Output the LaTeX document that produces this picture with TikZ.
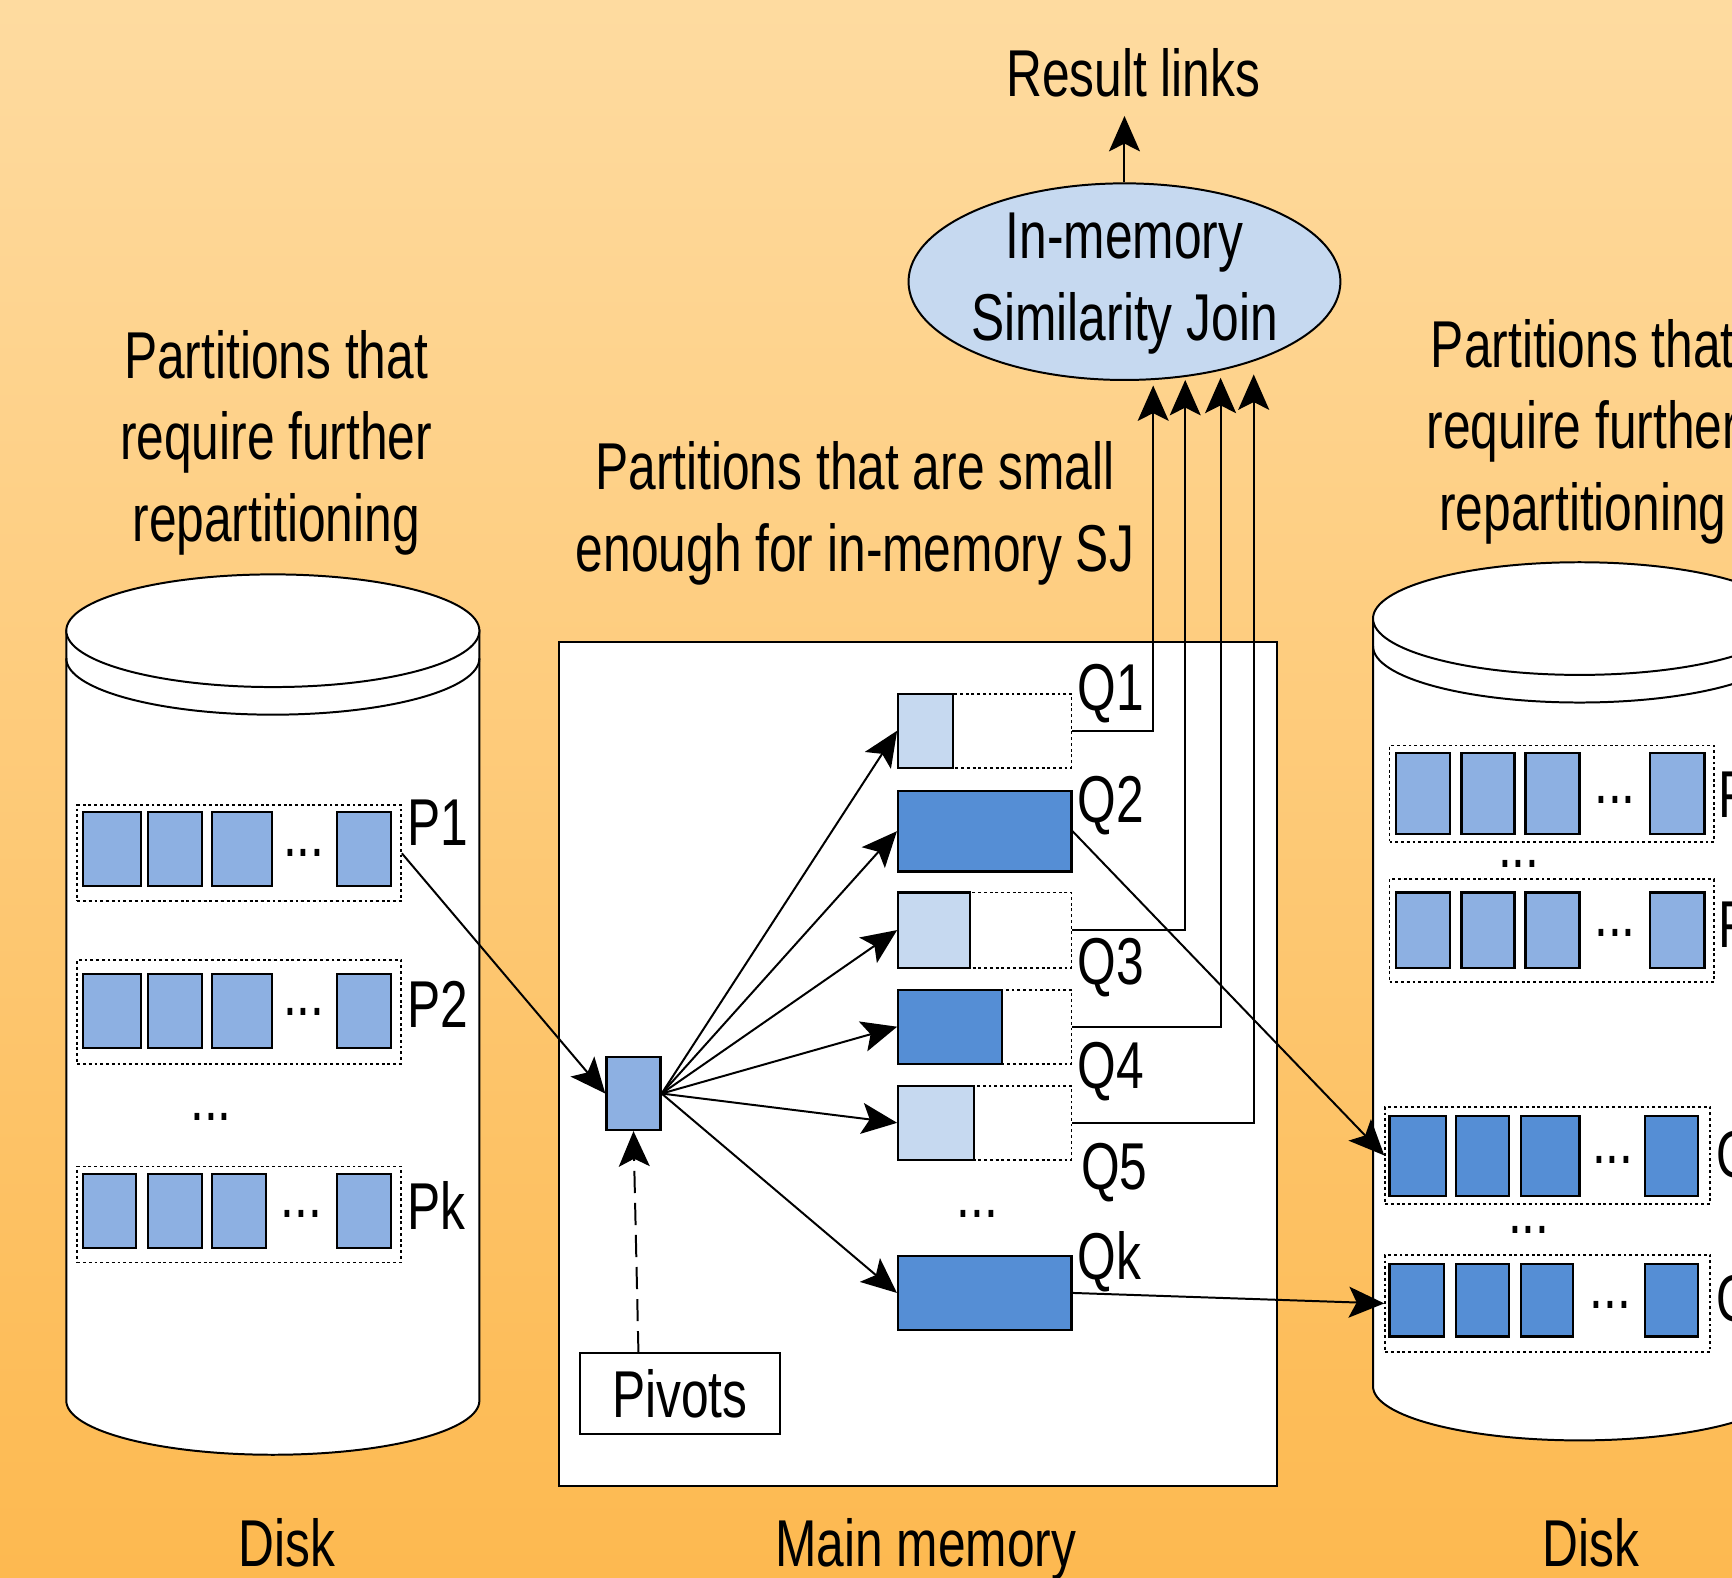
\documentclass[tikz,border=0pt]{standalone}
\usepackage{fontspec}
\setmainfont{Liberation Sans}[FakeStretch=0.75]
\usetikzlibrary{fit,arrows.meta,shapes.geometric}

\definecolor{bgtop}{RGB}{254,219,160}
\definecolor{bgbot}{RGB}{253,185,80}
\definecolor{pale}{RGB}{198,217,240}
\definecolor{mid}{RGB}{141,176,226}
\definecolor{deep}{RGB}{85,142,213}

% disk drum: centre x, top-ellipse centre y, bottom-ellipse centre y
\newcommand{\drum}[3]{%
  \filldraw[fill=white] (#1-187,#2) -- (#1-187,#3)
    arc[start angle=180,end angle=0,x radius=187,y radius=49] -- (#1+187,#2) -- cycle;
  \filldraw[fill=white] (#1,#2) ellipse[x radius=187,y radius=51];
  \draw (#1-187,#2+25) arc[start angle=180,end angle=0,x radius=187,y radius=51];
}

% a partition: dotted frame plus its blocks
% #1 name, #2-#5 frame corners, #6/#7 block top/bottom, #8 fill, #9 block x-extents
\newcommand{\partrow}[9]{%
  \node[dotbox, fit={(#2,#3) (#4,#5)}] (#1) {};
  \foreach \xa/\xb [count=\i] in {#9}
    \node[blk, fill=#8, fit={(\xa,#6) (\xb,#7)}] (#1-\i) {};
}

\begin{document}
\begin{tikzpicture}[x=0.5pt,y=-0.5pt,
  every node/.style={font=\fontsize{30}{37}\selectfont, inner sep=0pt},
  line width=0.9pt,
  tip/.style={-{Stealth[length=16pt,width=14pt,inset=3.5pt]}},
  dotbox/.style={draw, dash pattern=on 1.3pt off 1.3pt, line width=0.8pt, inner sep=0pt},
  blk/.style={draw, inner sep=0pt, line width=1pt},
]
\useasboundingbox (0,0) rectangle (1568,1428);
\clip (0,0) rectangle (1568,1428);
\shade[top color=bgtop,bottom color=bgbot] (0,0) rectangle (1568,1428);

% ---- titles ----
\node[anchor=base] (res) at (1026,87) {Result links};
\node[anchor=north, align=center] (ltitle) at (250,298) {Partitions that\\require further\\repartitioning};
\node[anchor=north, align=center] (mtitle) at (774,399) {Partitions that are small\\enough for in-memory SJ};
\node[anchor=north, align=center] (rtitle) at (1433,288) {Partitions that\\require further\\repartitioning};

% ---- in-memory join ----
\node[ellipse, draw, fill=pale, minimum width=195.5pt, minimum height=89pt] (sj) at (1018,255) {};
\node[align=center] (sjtext) at (1018,257) {In-memory\\Similarity Join};
\coordinate (rtip) at (1018,105);
\draw[tip] (sj.north) -- (rtip);

% ---- disks ----
\drum{247}{571}{1268}
\drum{1430}{560}{1255}

% left disk partitions
\partrow{p1}{70}{729}{363}{816}{735}{802}{mid}{75/128,134/183,192/246,305/354}
\partrow{p2}{70}{869}{363}{963}{882}{949}{mid}{75/128,134/183,192/246,305/354}
\partrow{pk}{70}{1056}{363}{1143}{1063}{1130}{mid}{75/123,134/183,192/241,305/354}
\node[anchor=base] (p1dots) at (275,775) {...};
\node[anchor=base] (p2dots) at (275,919) {...};
\node[anchor=base] (pkdots) at (273,1102) {...};
\node[anchor=base] (pvdots) at (191,1014) {...};
\node[anchor=base west] (p1lab) at (368,765) {P1};
\node[anchor=base west] (p2lab) at (368,930) {P2};
\node[anchor=base west] (pklab) at (368,1113) {Pk};

% right disk partitions
\partrow{r1}{1258}{675}{1552}{762}{682}{755}{mid}{1264/1313,1323/1371,1381/1430,1494/1543}
\partrow{r2}{1258}{796}{1552}{889}{808}{876}{mid}{1264/1313,1323/1371,1381/1430,1494/1543}
\partrow{r3}{1254}{1002}{1548}{1090}{1010}{1083}{deep}{1258/1309,1318/1366,1377/1430,1489/1537}
\partrow{r4}{1254}{1136}{1548}{1224}{1144}{1210}{deep}{1258/1307,1318/1366,1377/1424,1489/1537}
\node[anchor=base] (r1dots) at (1462,727) {...};
\node[anchor=base] (r2dots) at (1462,848) {...};
\node[anchor=base] (r3dots) at (1460,1053) {...};
\node[anchor=base] (r4dots) at (1458,1185) {...};
\node[anchor=base] (rdots1) at (1375,785) {...};
\node[anchor=base] (rdots2) at (1384,1117) {...};
\node[anchor=base west] (r1lab) at (1555,740) {P1};
\node[anchor=base west] (r2lab) at (1555,858) {Pk};
\node[anchor=base west] (r3lab) at (1553,1066) {Q2};
\node[anchor=base west] (r4lab) at (1553,1196) {Qk};

% ---- main memory ----
\node[draw, fill=white, fit={(506,581) (1156,1345)}] (mem) {};

\node[dotbox, fit={(813,628) (970,695)}] (q1) {};
\node[blk, fill=pale, fit={(813,628) (863,695)}] (q1f) {};
\node[blk, fill=deep, fit={(813,716) (970,789)}] (q2) {};
\node[dotbox, fit={(813,808) (970,876)}] (q3) {};
\node[blk, fill=pale, fit={(813,808) (878,876)}] (q3f) {};
\node[dotbox, fit={(813,896) (970,963)}] (q4) {};
\node[blk, fill=deep, fit={(813,896) (907,963)}] (q4f) {};
\node[dotbox, fit={(813,983) (970,1050)}] (q5) {};
\node[blk, fill=pale, fit={(813,983) (882,1050)}] (q5f) {};
\node[blk, fill=deep, fit={(813,1137) (970,1204)}] (qk) {};
\node[anchor=base] (qdots) at (885,1102) {...};

\node[anchor=base west] (q1lab) at (975,643) {Q1};
\node[anchor=base west] (q2lab) at (975,745) {Q2};
\node[anchor=base west] (q3lab) at (975,891) {Q3};
\node[anchor=base west] (q4lab) at (975,985) {Q4};
\node[anchor=base west] (q5lab) at (978,1077) {Q5};
\node[anchor=base west] (qklab) at (975,1158) {Qk};

\node[blk, fill=mid, fit={(549,957) (598,1023)}] (pv) {};
\node[draw, fill=white, minimum width=90.5pt, minimum height=36.5pt] (pivots) at (615.5,1261.5) {Pivots};

% ---- connectors ----
\coordinate (pvfoot) at (578,1225);
\draw[tip] (p1.east) -- (pv.west);
\draw[tip, dash pattern=on 10pt off 4.5pt] (pvfoot) -- (pv.south);
\draw[tip] (pv.east) -- (q1.west);
\draw[tip] (pv.east) -- (q2.west);
\draw[tip] (pv.east) -- (q3.west);
\draw[tip] (pv.east) -- (q4.west);
\draw[tip] (pv.east) -- (q5.west);
\draw[tip] (pv.east) -- (qk.west);

\coordinate (t1) at (1044,349);
\coordinate (t3) at (1073,344);
\coordinate (t4) at (1105,342);
\coordinate (t5) at (1135,339);
\draw[tip] (q1.east) -| (t1);
\draw[tip] (q3.east) -| (t3);
\draw[tip] (q4.east) -| (t4);
\draw[tip] (q5.east) -| (t5);

\draw[tip] (q2.east) -- (r3.west);
\draw[tip] (qk.east) -- (r4.west);

% ---- bottom captions ----
\node[anchor=base] (ldisk) at (260,1418) {Disk};
\node[anchor=base] (mmem) at (838,1418) {Main memory};
\node[anchor=base] (rdisk) at (1440,1418) {Disk};
\end{tikzpicture}
\end{document}
